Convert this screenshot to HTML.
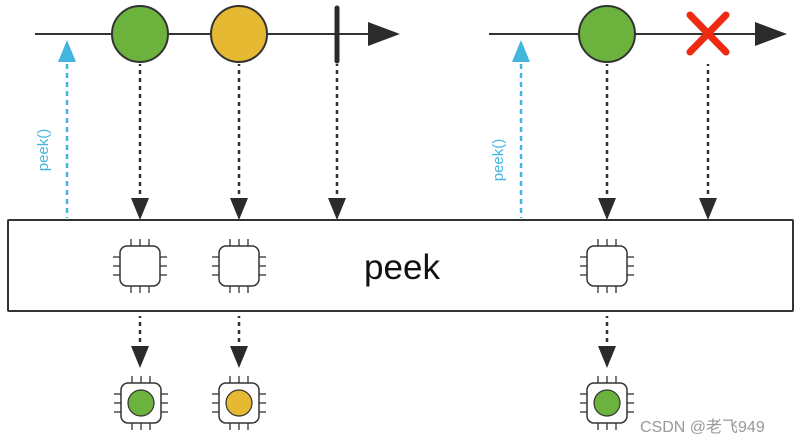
<!DOCTYPE html>
<html><head><meta charset="utf-8"><style>body{margin:0;background:#fff}svg{display:block}</style></head><body>
<svg width="803" height="445" viewBox="0 0 803 445" xmlns="http://www.w3.org/2000/svg">
<defs>
<g id="chip">
<rect x="-20" y="-20" width="40" height="40" rx="7" fill="#fff" stroke="#333" stroke-width="1.5"/>
<g stroke="#333" stroke-width="1.3">
<line x1="-9" y1="-20" x2="-9" y2="-27"/><line x1="0" y1="-20" x2="0" y2="-27"/><line x1="9" y1="-20" x2="9" y2="-27"/>
<line x1="-9" y1="20" x2="-9" y2="27"/><line x1="0" y1="20" x2="0" y2="27"/><line x1="9" y1="20" x2="9" y2="27"/>
<line x1="-20" y1="-9" x2="-27" y2="-9"/><line x1="-20" y1="0" x2="-27" y2="0"/><line x1="-20" y1="9" x2="-27" y2="9"/>
<line x1="20" y1="-9" x2="27" y2="-9"/><line x1="20" y1="0" x2="27" y2="0"/><line x1="20" y1="9" x2="27" y2="9"/>
</g></g>
<g id="dn"><line x1="0" y1="-10" x2="0" y2="-156" stroke="#333" stroke-width="2.5" stroke-dasharray="4,4"/><polygon points="-9,-22 9,-22 0,0" fill="#2b2b2b"/></g>
<g id="dn2"><line x1="0" y1="-10" x2="0" y2="-52" stroke="#333" stroke-width="2.5" stroke-dasharray="4,4"/><polygon points="-9,-22 9,-22 0,0" fill="#2b2b2b"/></g>
</defs>
<line x1="35" y1="34" x2="372" y2="34" stroke="#333" stroke-width="2"/>
<polygon points="368,22 400,34 368,46" fill="#2b2b2b"/>
<circle cx="140" cy="34" r="28" fill="#6bb33d" stroke="#333" stroke-width="2"/>
<circle cx="239" cy="34" r="28" fill="#e6b932" stroke="#333" stroke-width="2"/>
<line x1="337" y1="8" x2="337" y2="61" stroke="#2b2b2b" stroke-width="5" stroke-linecap="round"/>
<line x1="489" y1="34" x2="758" y2="34" stroke="#333" stroke-width="2"/>
<polygon points="755,22 787,34 755,46" fill="#2b2b2b"/>
<circle cx="607" cy="34" r="28" fill="#6bb33d" stroke="#333" stroke-width="2"/>
<g stroke="#ee2a10" stroke-width="7" stroke-linecap="round"><line x1="690" y1="15" x2="726" y2="52"/><line x1="726" y1="15" x2="690" y2="52"/></g>
<g stroke="#43b6e0" stroke-width="2.5" stroke-dasharray="5,4"><line x1="67" y1="64" x2="67" y2="218"/><line x1="521" y1="64" x2="521" y2="218"/></g>
<polygon points="58,62 76,62 67,40" fill="#43b6e0"/>
<polygon points="512,62 530,62 521,40" fill="#43b6e0"/>
<text transform="translate(48,150) rotate(-90)" text-anchor="middle" font-family="Liberation Sans, sans-serif" font-size="15" fill="#43b6e0">peek()</text>
<text transform="translate(503,160) rotate(-90)" text-anchor="middle" font-family="Liberation Sans, sans-serif" font-size="15" fill="#43b6e0">peek()</text>
<use href="#dn" x="140" y="220"/><use href="#dn" x="239" y="220"/><use href="#dn" x="337" y="220"/>
<use href="#dn" x="607" y="220"/><use href="#dn" x="708" y="220"/>
<rect x="8" y="220" width="785" height="91" fill="#fff" stroke="#333" stroke-width="2" rx="1"/>
<text x="402" y="279" text-anchor="middle" font-family="Liberation Sans, sans-serif" font-size="35" fill="#111">peek</text>
<use href="#chip" x="140" y="266"/><use href="#chip" x="239" y="266"/><use href="#chip" x="607" y="266"/>
<use href="#dn2" x="140" y="368"/><use href="#dn2" x="239" y="368"/><use href="#dn2" x="607" y="368"/>
<use href="#chip" x="141" y="403"/><use href="#chip" x="239" y="403"/><use href="#chip" x="607" y="403"/>
<circle cx="141" cy="403" r="13" fill="#6bb33d" stroke="#333" stroke-width="1.2"/>
<circle cx="239" cy="403" r="13" fill="#e6b932" stroke="#333" stroke-width="1.2"/>
<circle cx="607" cy="403" r="13" fill="#6bb33d" stroke="#333" stroke-width="1.2"/>
<text x="640" y="432" font-family="Liberation Sans, 'Noto Sans CJK SC', sans-serif" font-size="16" fill="#999">CSDN @老飞949</text>
</svg>
</body></html>
